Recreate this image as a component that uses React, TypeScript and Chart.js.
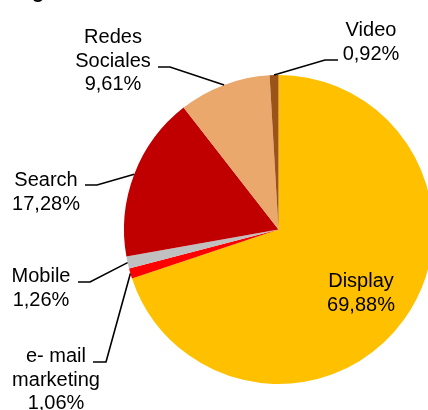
import React, { useEffect, useRef } from "react";
import { Chart, registerables } from "chart.js";

Chart.register(...registerables);

const categories = ["Display", "e- mail marketing", "Mobile", "Search", "Redes Sociales", "Video"];
const shares = [69.88, 1.06, 1.26, 17.28, 9.61, 0.92];
const labelLines = [
  ["Display"],
  ["e- mail", "marketing"],
  ["Mobile"],
  ["Search"],
  ["Redes", "Sociales"],
  ["Video"],
];
const colors = ["#FFC000", "#FF0000", "#C0C0C0", "#C00000", "#EAA86C", "#9C5318"];
const titleFragment = "g";

// layout of labels: [centerX, firstBaseline]; leader: [startX, y, kneeX] or null
const labelLayout: [number, number][] = [
  [361, 287],
  [56, 362],
  [41, 282],
  [46, 186],
  [113, 43],
  [371, 36],
];
const leaders: ([number, number, number] | null)[] = [
  null,
  [93, 362, 106],
  [78, 282, 90],
  [85, 185, 97],
  [158, 67, 170],
  [338, 60, 325],
];

const fmt = (v: number) => v.toFixed(2).replace(".", ",") + "%";

const labelPlugin = {
  id: "pieLabels",
  afterDraw(chart: any) {
    const ctx = chart.ctx;
    const meta = chart.getDatasetMeta(0);
    ctx.save();
    ctx.strokeStyle = "#000";
    ctx.lineWidth = 1.6;
    meta.data.forEach((arc: any, i: number) => {
      const p = arc.getProps(["x", "y", "startAngle", "endAngle", "outerRadius"], true);
      const mid = (p.startAngle + p.endAngle) / 2;
      const ex = p.x + Math.cos(mid) * p.outerRadius;
      const ey = p.y + Math.sin(mid) * p.outerRadius;
      const ld = leaders[i];
      if (ld) {
        ctx.beginPath();
        ctx.moveTo(ld[0], ld[1]);
        ctx.lineTo(ld[2], ld[1]);
        ctx.lineTo(ex, ey);
        ctx.stroke();
      }
    });
    ctx.fillStyle = "#000";
    ctx.font = '20px "Liberation Sans", Arial, sans-serif';
    ctx.textAlign = "center";
    ctx.textBaseline = "alphabetic";
    categories.forEach((c, i) => {
      const lines = [...labelLines[i], fmt(shares[i])];
      const [cx, by] = labelLayout[i];
      lines.forEach((t, k) => ctx.fillText(t, cx, by + k * 23.5));
    });
    ctx.font = 'bold 20px "Liberation Sans", Arial, sans-serif';
    ctx.fillText(titleFragment, 38, -2);
    ctx.restore();
  },
};

export default function App() {
  const ref = useRef<HTMLCanvasElement | null>(null);
  useEffect(() => {
    if (!ref.current) return;
    const chart = new Chart(ref.current, {
      type: "pie",
      data: {
        labels: categories,
        datasets: [
          {
            data: shares,
            backgroundColor: colors,
            borderWidth: 0,
          },
        ],
      },
      options: {
        animation: false,
        responsive: false,
        devicePixelRatio: 1,
        layout: { padding: { left: 124, top: 75, right: 27, bottom: 26 } },
        plugins: { legend: { display: false }, tooltip: { enabled: false } },
      },
      plugins: [labelPlugin],
    });
    return () => chart.destroy();
  }, []);
  return (
    <div style={{ position: "fixed", left: 0, top: 0, width: 428, height: 410, overflow: "hidden", background: "#fff" }}>
      <canvas ref={ref} width={460} height={410} style={{ width: 460, height: 410, display: "block" }} />
    </div>
  );
}
